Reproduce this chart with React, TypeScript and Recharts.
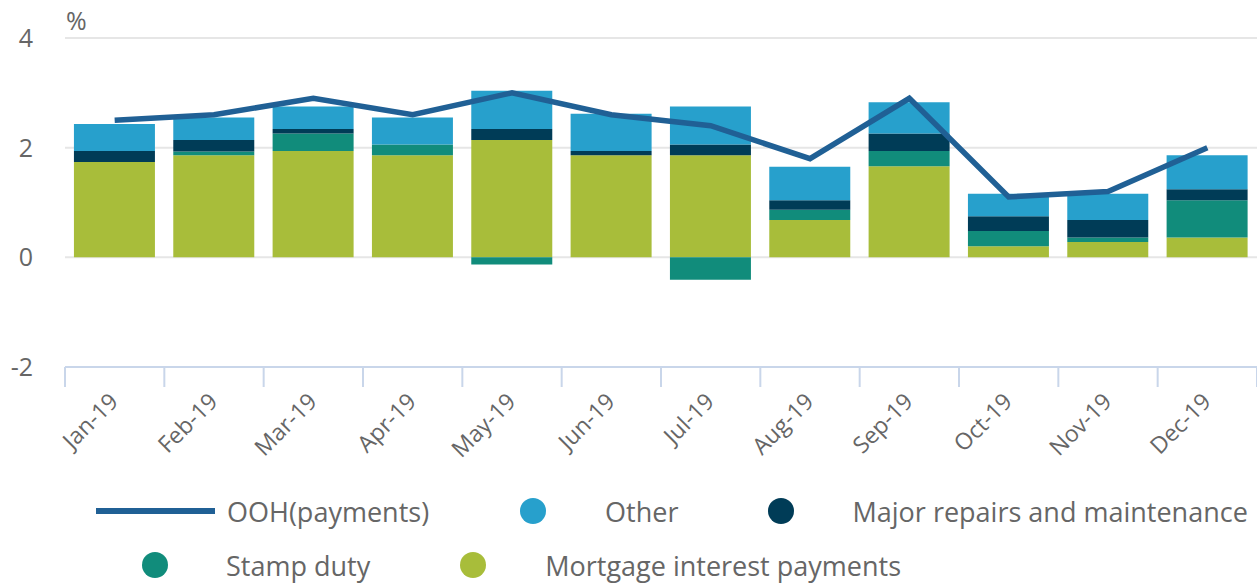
import { ComposedChart, Bar, Line, XAxis, YAxis, CartesianGrid } from "recharts"

const months = ["Jan-19", "Feb-19", "Mar-19", "Apr-19", "May-19", "Jun-19", "Jul-19", "Aug-19", "Sep-19", "Oct-19", "Nov-19", "Dec-19"]
const mortgage = [1.74, 1.86, 1.94, 1.86, 2.14, 1.86, 1.86, 0.68, 1.66, 0.2, 0.28, 0.36]
const stampDuty = [0, 0.07, 0.32, 0.2, -0.13, 0, -0.41, 0.19, 0.28, 0.28, 0.08, 0.68]
const majorRepairs = [0.2, 0.21, 0.08, 0, 0.2, 0.08, 0.2, 0.17, 0.32, 0.27, 0.32, 0.2]
const other = [0.49, 0.41, 0.41, 0.49, 0.7, 0.68, 0.69, 0.61, 0.57, 0.41, 0.48, 0.62]
const oohPayments = [2.5, 2.6, 2.9, 2.6, 3.0, 2.6, 2.4, 1.8, 2.9, 1.1, 1.2, 2.0]
const yTicks = [-2, 0, 2, 4]

const colors = {
  line: "#206095",
  other: "#27a0cc",
  repairs: "#003c57",
  stamp: "#118c7b",
  mortgage: "#a8bd3a",
  grid: "#e6e6e6",
  axis: "#c9d6ea",
  text: "#666666",
}

const data = months.map((m, i) => ({
  name: m,
  mortgage: mortgage[i],
  stamp: stampDuty[i],
  repairs: majorRepairs[i],
  other: other[i],
  ooh: oohPayments[i],
}))

const font = "'Open Sans', sans-serif"

// category boundary tick lines + rotated label
const MonthTick = (props: any) => {
  const { x, y, payload, index } = props
  const half = payload.offset ?? 49.67
  return (
    <g>
      <line x1={x - half} y1={y - 8} x2={x - half} y2={y + 12} stroke={colors.axis} strokeWidth={2} />
      {index === months.length - 1 && (
        <line x1={x + half} y1={y - 8} x2={x + half} y2={y + 12} stroke={colors.axis} strokeWidth={2} />
      )}
      <text
        x={x + 5}
        y={y + 28}
        transform={`rotate(-45, ${x + 5}, ${y + 28})`}
        textAnchor="end"
        fill={colors.text}
        fontSize={23}
        fontFamily={font}
      >
        {payload.value}
      </text>
    </g>
  )
}

const Dot = ({ color }: { color: string }) => (
  <span style={{ display: "inline-block", width: 26, height: 26, borderRadius: 13, background: color }} />
)

const legendText = { fontSize: 27, color: colors.text, fontFamily: font, whiteSpace: "nowrap" as const }

const Legend = () => (
  <>
    <div style={{ position: "absolute", left: 96, top: 493, display: "flex", alignItems: "center", height: 36 }}>
      <span style={{ display: "inline-block", width: 119, height: 6, background: colors.line, marginRight: 12 }} />
      <span style={{ ...legendText, marginRight: 91 }}>OOH(payments)</span>
      <Dot color={colors.other} />
      <span style={{ ...legendText, marginLeft: 59, marginRight: 90 }}>Other</span>
      <Dot color={colors.repairs} />
      <span style={{ ...legendText, marginLeft: 58 }}>Major repairs and maintenance</span>
    </div>
    <div style={{ position: "absolute", left: 142, top: 547, display: "flex", alignItems: "center", height: 36 }}>
      <Dot color={colors.stamp} />
      <span style={{ ...legendText, marginLeft: 58, marginRight: 90 }}>Stamp duty</span>
      <Dot color={colors.mortgage} />
      <span style={{ ...legendText, marginLeft: 59 }}>Mortgage interest payments</span>
    </div>
  </>
)

export default function App() {
  return (
    <div style={{ position: "absolute", left: 0, top: 0, width: 1257, height: 583, background: "#fff", fontFamily: font }}>
      <div style={{ position: "absolute", left: 66, top: 3, fontSize: 25, color: colors.text, fontFamily: font }}>%</div>
      <ComposedChart
        width={1257}
        height={480}
        data={data}
        stackOffset="sign"
        barCategoryGap="9%"
        margin={{ top: 38, right: 0, left: 0, bottom: 0 }}
      >
        <CartesianGrid vertical={false} stroke={colors.grid} strokeWidth={2} />
        <XAxis
          dataKey="name"
          height={113}
          axisLine={{ stroke: colors.axis, strokeWidth: 2 }}
          tickLine={false}
          tick={<MonthTick />}
          interval={0}
          tickSize={8}
          tickMargin={0}
        />
        <YAxis
          width={65}
          domain={[-2, 4]}
          ticks={yTicks}
          axisLine={false}
          tickLine={false}
          tickMargin={26}
          tick={{ fill: colors.text, fontSize: 25, fontFamily: font }}
        />
        <Bar dataKey="mortgage" stackId="a" fill={colors.mortgage} isAnimationActive={false} />
        <Bar dataKey="stamp" stackId="a" fill={colors.stamp} isAnimationActive={false} />
        <Bar dataKey="repairs" stackId="a" fill={colors.repairs} isAnimationActive={false} />
        <Bar dataKey="other" stackId="a" fill={colors.other} isAnimationActive={false} />
        <Line
          dataKey="ooh"
          type="linear"
          stroke={colors.line}
          strokeWidth={5.5}
          dot={false}
          activeDot={false}
          isAnimationActive={false}
        />
      </ComposedChart>
      <Legend />
    </div>
  )
}
